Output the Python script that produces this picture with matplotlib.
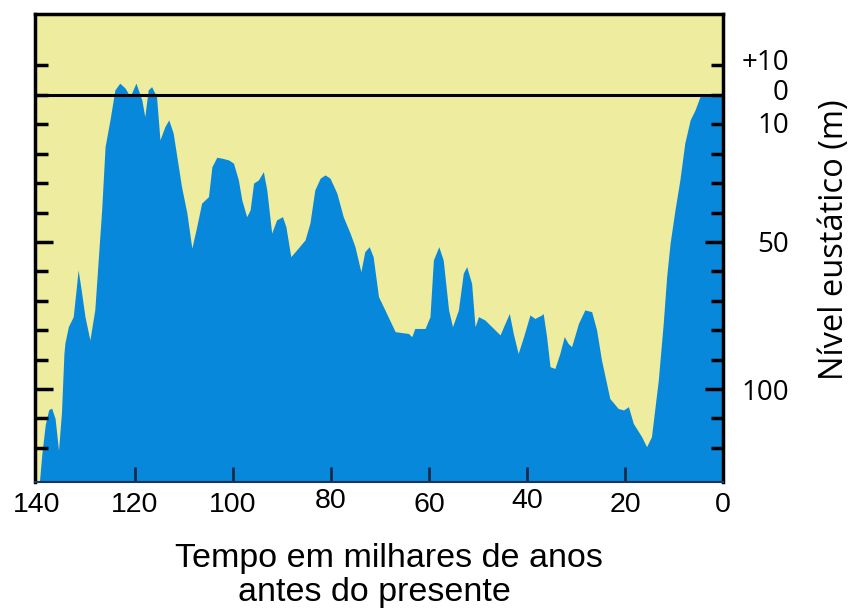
import matplotlib
matplotlib.use("Agg")
from matplotlib import pyplot as plt
from matplotlib.transforms import ScaledTranslation

# sea level curve, thousand years before present vs metres relative to today
age = [139.5, 139.0, 138.3, 137.6, 137.0, 136.3, 135.6, 135.0, 134.5, 134.3,
       133.6, 132.6, 132.0, 131.6, 131.0, 130.2, 129.2, 128.2, 127.5, 126.8,
       126.1, 125.1, 124.1, 123.1, 122.0, 121.0, 119.8, 118.6, 118.0, 117.3,
       116.6, 115.6, 114.9, 113.9, 113.1, 112.2, 110.5, 109.4, 108.4, 107.4,
       106.4, 105.0, 104.3, 103.3, 102.3, 100.9, 99.9, 98.9, 98.2, 97.2,
       96.5, 95.8, 94.8, 93.8, 93.1, 92.1, 91.1, 89.9, 89.2, 88.2,
       86.7, 85.3, 84.3, 83.3, 82.2, 81.2, 80.2, 78.8, 77.5, 76.1,
       75.1, 73.9, 73.1, 72.2, 71.4, 70.3, 69.0, 66.9, 64.2, 63.5,
       62.9, 60.8, 59.8, 59.1, 58.0, 57.1, 56.0, 55.2, 54.0, 53.0,
       52.3, 51.3, 50.6, 49.9, 48.6, 47.2, 45.5, 44.5, 43.6, 42.8,
       41.8, 40.7, 39.4, 38.4, 37.0, 36.7, 36.0, 35.3, 34.3, 33.3,
       32.4, 31.6, 30.9, 29.5, 28.2, 26.8, 25.8, 24.8, 23.1, 21.4,
       20.3, 19.3, 18.3, 16.6, 15.6, 14.6, 13.2, 12.2, 11.5, 10.8,
       9.8, 8.8, 7.8, 6.7, 5.7, 4.7, 3.7, 0.0]
level = [-131.5, -122, -112, -107, -106.5, -110, -120.8, -108, -88, -84.4,
         -78.8, -75.4, -66, -59.5, -66, -75.4, -83.3, -73.1, -56.1, -39.1,
         -17.6, -8.5, 1.7, 4.0, 2.3, -0.6, 4.0, -1.7, -7.4, 1.7,
         2.8, -0.6, -15.3, -10.8, -8.5, -13.0, -31.2, -40.2, -52.1, -44.8,
         -36.8, -34.6, -24.4, -21.2, -21.5, -22.1, -23.2, -28.9, -35.7, -41.4,
         -39.1, -30.0, -28.9, -26.1, -32.3, -47.0, -42.5, -41.4, -44.8, -55.0,
         -52.1, -49.3, -43.6, -32.3, -28.3, -27.2, -28.3, -33.4, -41.4, -47.0,
         -51.6, -60.1, -53.3, -51.6, -55.0, -68.6, -73.1, -80.5, -81.1, -82.2,
         -79.4, -79.4, -75.4, -56.1, -51.6, -56.1, -73.1, -78.8, -73.1, -60.6,
         -58.4, -64.1, -78.8, -75.4, -76.5, -78.8, -81.6, -77.7, -74.3, -81.1,
         -87.9, -82.2, -74.8, -76.0, -74.8, -74.3, -82.2, -92.4, -93.0, -87.9,
         -82.2, -84.5, -85.6, -77.7, -73.1, -73.7, -79.9, -90.1, -103.2, -106.6,
         -107.1, -106.0, -111.7, -116.2, -119.6, -116.2, -96.9, -77.7, -61.8, -50.4,
         -39.1, -28.9, -16.4, -8.5, -5.1, -0.6, 0.0, 0.0]

x_ticks = [140, 120, 100, 80, 60, 40, 20, 0]
y_ticks = list(range(10, -121, -10))
y_labels = {10: "+10", 0: "0", -10: "10", -50: "50", -100: "100"}

y_bottom, y_top = -131.6, 27.5

fig = plt.figure(figsize=(8.51, 6.08), dpi=100)
ax = fig.add_axes([35 / 851, 1 - 482 / 608, 688 / 851, 468 / 608])
ax.set_facecolor("#EEEC9E")

ax.fill_between(age, level, y_bottom, color="#0788DB", lw=0)
ax.axhline(0, color="black", lw=2.2)

ax.set_xlim(140.4, 0)
ax.set_ylim(y_bottom, y_top)

for side in ["left", "top", "right"]:
    ax.spines[side].set_linewidth(2.5)
    ax.spines[side].set_color("black")
ax.spines["bottom"].set_linewidth(1.5)
ax.spines["bottom"].set_color("#1a3560")

ax.tick_params(axis="x", direction="in", length=11, width=2, color="#1a2a4a",
               pad=7, labelsize=20.5, labelfontfamily="Liberation Sans")
ax.tick_params(axis="y", direction="in", left=True, right=True,
               labelleft=False, labelright=True, length=9, width=2.5,
               color="black", pad=47.5, labelsize=20, labelfontfamily="Open Sans")

# time axis
ax.set_xticks(x_ticks)
ax.set_xticklabels([str(t) for t in x_ticks])
xt = ax.xaxis.get_major_ticks()
xt[0].tick1line.set_visible(False)
xt[-1].tick1line.set_visible(False)

# sea level axis, ticks on both sides, labels on the right
ax.set_yticks(y_ticks)
ax.set_yticklabels([y_labels.get(v, "") for v in y_ticks])
for tick, v in zip(ax.yaxis.get_major_ticks(), y_ticks):
    if v in (-50, -100):
        tick.tick1line.set_markersize(13)
        tick.tick2line.set_markersize(13)

for lab in ax.get_xticklabels():
    if lab.get_text() in ("80", "40"):
        lab.set_transform(lab.get_transform() + ScaledTranslation(0, 2.5 / 72, fig.dpi_scale_trans))

label_shift = {"+10": 4, "0": 4, "10": 1.5, "50": 0, "100": 0}
for lab in ax.get_yticklabels():
    lab.set_horizontalalignment("right")
    dy = label_shift.get(lab.get_text(), 0)
    lab.set_transform(lab.get_transform() + ScaledTranslation(0, dy / 72, fig.dpi_scale_trans))

fig.text(835 / 851, 1 - 240 / 608, "Nível eustático (m)", rotation=90,
         ha="center", va="center", fontsize=23.5, family="Open Sans")
fig.text(389 / 851, 1 - 567 / 608, "Tempo em milhares de anos",
         ha="center", va="baseline", fontsize=24.5, family="Liberation Sans")
fig.text(374 / 851, 1 - 600.5 / 608, "antes do presente",
         ha="center", va="baseline", fontsize=24.5, family="Liberation Sans")

fig.savefig("out.png", dpi=100)
